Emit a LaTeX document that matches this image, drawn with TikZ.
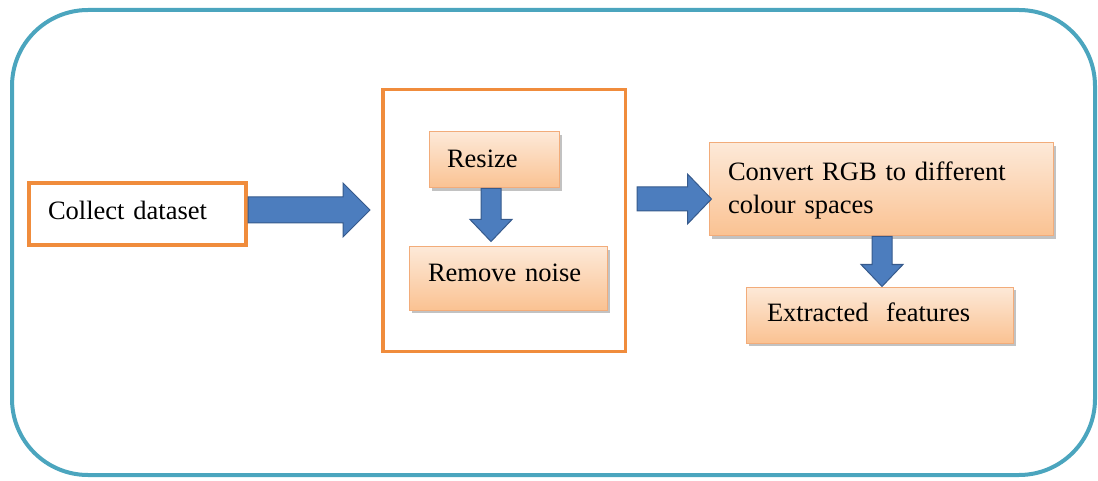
\documentclass[tikz,border=0pt]{standalone}
\usepackage{fontspec}
\setmainfont{Liberation Serif}
\usetikzlibrary{calc,shadows}

\definecolor{frameteal}{RGB}{75,165,190}
\definecolor{boxorange}{RGB}{240,140,60}
\definecolor{peachtop}{RGB}{253,233,216}
\definecolor{peachbot}{RGB}{250,194,146}
\definecolor{peachline}{RGB}{242,172,122}
\definecolor{arrowfill}{RGB}{76,125,190}
\definecolor{arrowline}{RGB}{54,90,140}

\tikzset{
  lbl/.style={font=\fontsize{26.5}{33}\selectfont, align=left, inner ysep=0pt},
  outlinebox/.style={lbl, draw=boxorange, line width=4pt, fill=white},
  peachbox/.style={lbl, draw=peachline, line width=1pt,
    top color=peachtop, bottom color=peachbot,
    drop shadow={shadow xshift=2.5pt, shadow yshift=-3pt, opacity=0.4, fill=black!60}},
  blockarrow/.style={draw=arrowline, line width=1pt, fill=arrowfill, line join=miter},
}

% wide block arrow pointing right: tail point, tip point, shaft half width, head half width, head length
\newcommand{\rightblock}[5]{%
  \draw[blockarrow] let \p1=#1, \p2=#2 in
    (\x1,\y2+#3) -- (\x2-#5,\y2+#3) -- (\x2-#5,\y2+#4) -- (\x2,\y2)
    -- (\x2-#5,\y2-#4) -- (\x2-#5,\y2-#3) -- (\x1,\y2-#3) -- cycle;}
% wide block arrow pointing down
\newcommand{\downblock}[5]{%
  \draw[blockarrow] let \p1=#1, \p2=#2 in
    (\x2-#3,\y1) -- (\x2-#3,\y2+#5) -- (\x2-#4,\y2+#5) -- (\x2,\y2)
    -- (\x2+#4,\y2+#5) -- (\x2+#3,\y2+#5) -- (\x2+#3,\y1) -- cycle;}

\begin{document}
\begin{tikzpicture}[x=1pt,y=1pt]
  \useasboundingbox (0,0) rectangle (1098,480);

  % outer rounded panel
  \node[draw=frameteal, line width=4pt, rounded corners=76pt,
        minimum width=1083, minimum height=465] (panel) at (553.5,237.5) {};

  % preprocessing frame
  \node[draw=boxorange, line width=3.5pt,
        minimum width=242.5, minimum height=261.5] (stage) at (504,259.5) {};

  \node[outlinebox, minimum height=62, text width=179, inner xsep=19, text depth=8pt]
    (collect) at (137.5,266) {Collect dataset};

  \node[peachbox, minimum height=56, text width=94, inner xsep=18, text depth=3pt]
    (resize) at (494,320) {Resize};
  \node[peachbox, minimum height=63, text width=160, inner xsep=19, text depth=11pt]
    (remove) at (508,201.5) {Remove noise};
  \node[peachbox, minimum height=93, text width=306, inner xsep=19]
    (convert) at ($(881,290.5)$) {\rule{0pt}{21pt}Convert RGB to different\\colour spaces};
  \node[peachbox, minimum height=56, text width=225, inner xsep=21, text depth=6pt]
    (extract) at (879.5,165) {Extracted\ \ features};

  % block arrows
  \rightblock{(collect.east)}{($(stage.west)+(-11,10.5)$)}{13pt}{27pt}{27pt}
  \rightblock{($(stage.east)+(10,0)$)}{($(convert.west)+(3,-9.5)$)}{12pt}{25pt}{24pt}
  \downblock{(resize.south)}{($(remove.north)+(-17,5)$)}{10pt}{21pt}{22pt}
  \downblock{(convert.south)}{($(extract.north)+(2.5,0)$)}{10pt}{21pt}{22pt}
\end{tikzpicture}
\end{document}
